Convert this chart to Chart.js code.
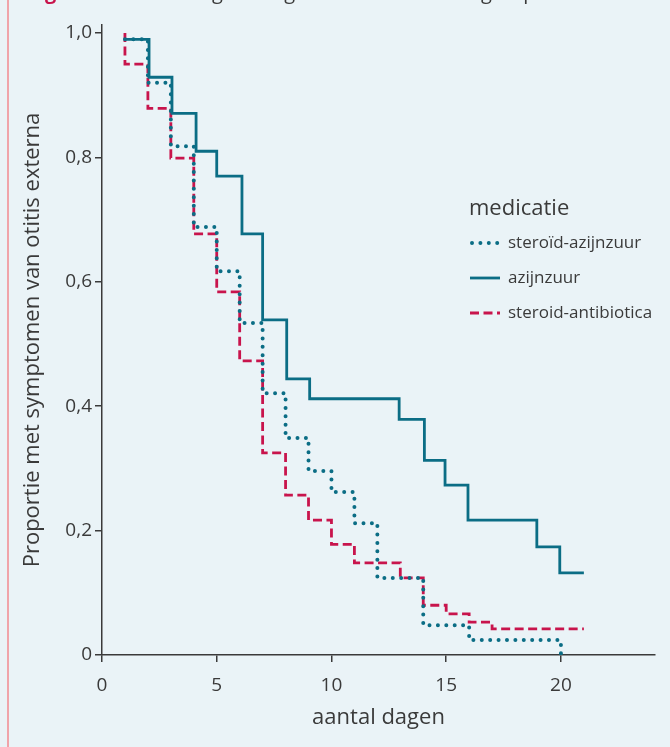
<!DOCTYPE html>
<html>
<head>
<meta charset="utf-8">
<script src="https://cdn.jsdelivr.net/npm/chart.js@4.4.1/dist/chart.umd.min.js"></script>
<style>
  html, body { margin: 0; padding: 0; background: #eaf3f7; }
  #wrap { width: 670px; height: 747px; position: relative; }
</style>
</head>
<body>
<div id="wrap"><canvas id="km"></canvas></div>
<script>
// Kaplan-Meier: dag van de stap en proportie na de stap
var dagenStAz = [1, 2, 3, 4, 5, 6, 7, 8, 9, 10, 11, 12, 14, 16, 20];
var stAz = [0.99, 0.92, 0.818, 0.688, 0.617, 0.534, 0.421, 0.349, 0.296, 0.262, 0.212, 0.124, 0.048, 0.024, 0];

var dagenAz = [1, 2.05, 3.05, 4.1, 5, 6.1, 7, 8.05, 9.05, 12.95, 14.05, 14.95, 15.95, 18.95, 19.95, 21];
var az = [0.99, 0.929, 0.871, 0.81, 0.77, 0.677, 0.539, 0.444, 0.412, 0.379, 0.313, 0.273, 0.217, 0.174, 0.132, 0.132];

var dagenStAb = [1, 1, 2, 3, 4, 5, 6, 7, 8, 9, 10, 11, 13, 14, 15, 16, 17, 21];
var stAb = [1, 0.95, 0.879, 0.799, 0.677, 0.584, 0.473, 0.325, 0.257, 0.217, 0.178, 0.148, 0.124, 0.08, 0.066, 0.053, 0.042, 0.042];

var labels = ['steroïd-azijnzuur', 'azijnzuur', 'steroid-antibiotica'];
var xTicks = [0, 5, 10, 15, 20];
var yTicks = [0, 0.2, 0.4, 0.6, 0.8, 1.0];

var teal = '#0b6d85';
var rood = '#c8144c';
var tekst = '#3a3a3a';
var font = '"Open Sans", "DejaVu Sans", sans-serif';

function punten(dagen, vals) {
  var out = [];
  for (var i = 0; i < dagen.length; i++) out.push({ x: dagen[i], y: vals[i] });
  return out;
}

var achtergrond = {
  id: 'achtergrond',
  beforeDraw: function (chart) {
    var ctx = chart.ctx;
    ctx.save();
    ctx.fillStyle = '#eaf3f7';
    ctx.fillRect(0, 0, chart.width, chart.height);
    ctx.fillStyle = '#f0a4aa';
    ctx.fillRect(7, 0, 2, chart.height);
    // afgesneden bijschrift bovenaan
    ctx.textBaseline = 'alphabetic';
    ctx.font = 'bold 20px ' + font;
    ctx.fillStyle = rood;
    ctx.fillText('Figuur 2', 28, -1);
    ctx.font = '20px ' + font;
    ctx.fillStyle = tekst;
    ctx.fillText('Duur tot genezing in de drie behandelgroepen', 128, -1);
    ctx.restore();
  }
};

var legenda = {
  id: 'legenda',
  afterDraw: function (chart) {
    var ctx = chart.ctx;
    ctx.save();
    ctx.fillStyle = tekst;
    ctx.textBaseline = 'alphabetic';
    ctx.font = '22px ' + font;
    ctx.fillText('medicatie', 469, 215);
    ctx.font = '17px ' + font;
    chart.data.datasets.forEach(function (ds, i) {
      var y = 243 + i * 35;
      ctx.beginPath();
      ctx.setLineDash(ds.borderDash || []);
      ctx.lineCap = ds.borderCapStyle || 'butt';
      ctx.lineWidth = ds.borderWidth;
      ctx.strokeStyle = ds.borderColor;
      ctx.moveTo(ds.borderCapStyle === 'round' ? 472 : 470, y);
      ctx.lineTo(500, y);
      ctx.stroke();
      ctx.setLineDash([]);
      ctx.textBaseline = 'middle';
      ctx.fillText(ds.label, 508, y);
    });
    ctx.restore();
  }
};

new Chart(document.getElementById('km'), {
  type: 'line',
  data: {
    datasets: [
      {
        label: labels[0],
        data: punten(dagenStAz, stAz),
        borderColor: teal,
        borderWidth: 4,
        borderDash: [0, 8.4],
        borderCapStyle: 'round',
        stepped: true,
        pointRadius: 0,
        fill: false
      },
      {
        label: labels[1],
        data: punten(dagenAz, az),
        borderColor: teal,
        borderWidth: 2.8,
        stepped: true,
        pointRadius: 0,
        fill: false
      },
      {
        label: labels[2],
        data: punten(dagenStAb, stAb),
        borderColor: rood,
        borderWidth: 2.8,
        borderDash: [9, 4.5],
        borderCapStyle: 'butt',
        stepped: true,
        pointRadius: 0,
        fill: false
      }
    ]
  },
  options: {
    responsive: true,
    maintainAspectRatio: false,
    animation: false,
    layout: { padding: { left: 10, right: 15, top: 25, bottom: 10 } },
    plugins: {
      legend: { display: false },
      tooltip: { enabled: false }
    },
    scales: {
      x: {
        type: 'linear',
        min: 0,
        max: 24.1,
        afterBuildTicks: function (s) { s.ticks = xTicks.map(function (v) { return { value: v }; }); },
        afterFit: function (s) { s.height = 82; },
        grid: { drawOnChartArea: false, drawTicks: true, tickLength: 7, color: tekst, lineWidth: 1.5 },
        border: { color: tekst, width: 1.5 },
        ticks: { color: tekst, font: { size: 19, family: font }, padding: 12, maxRotation: 0 },
        title: { display: true, text: 'aantal dagen', color: tekst, font: { size: 22, family: font }, padding: { top: 0, bottom: 6 } }
      },
      y: {
        min: 0,
        max: 1.013,
        afterBuildTicks: function (s) { s.ticks = yTicks.map(function (v) { return { value: v }; }); },
        afterFit: function (s) { s.width = 92; },
        grid: { drawOnChartArea: false, drawTicks: true, tickLength: 7, color: tekst, lineWidth: 1.5 },
        border: { color: tekst, width: 1.5 },
        ticks: {
          color: tekst,
          font: { size: 19, family: font },
          padding: 3,
          callback: function (v) { return v === 0 ? '0' : v.toFixed(1).replace('.', ','); }
        },
        title: { display: true, text: 'Proportie met symptomen van otitis externa', color: tekst, font: { size: 22, family: font }, padding: { top: 10, bottom: 0 } }
      }
    }
  },
  plugins: [achtergrond, legenda]
});
</script>
</body>
</html>
